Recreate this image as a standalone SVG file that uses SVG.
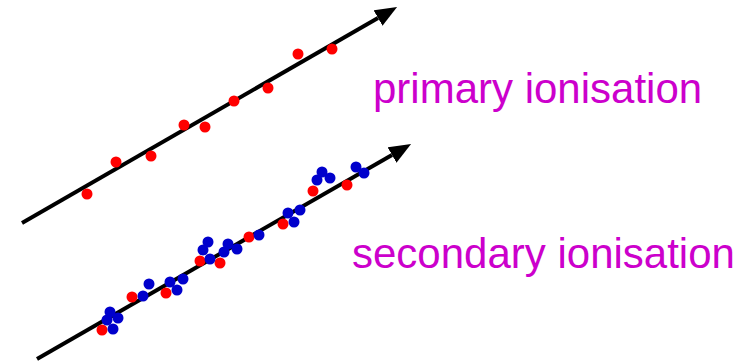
<svg xmlns="http://www.w3.org/2000/svg" width="743" height="363" viewBox="0 0 743 363">
<style>
.trk{stroke:#000;stroke-width:4;fill:none;marker-end:url(#ah)}
.r{fill:#ff0000}
.b{fill:#0000cc}
.lbl{font-family:"Liberation Sans",Arial,sans-serif;font-size:42px;fill:#cc00cc}
</style>
<defs>
<marker id="ah" viewBox="0 0 22 18" refX="0" refY="9" markerWidth="22" markerHeight="18" markerUnits="userSpaceOnUse" orient="auto">
<path d="M0,0 L22,9 L0,18 z" fill="#000"/>
</marker>
</defs>
<rect width="743" height="363" fill="#fff"/>
<g id="connectors">
<line class="trk" x1="22" y1="223" x2="378" y2="18"/>
<line class="trk" x1="37" y1="359" x2="392" y2="155"/>
</g>
<g id="primary-dots">
<circle class="r" cx="87" cy="194" r="5.5"/>
<circle class="r" cx="116" cy="162" r="5.5"/>
<circle class="r" cx="151" cy="156" r="5.5"/>
<circle class="r" cx="184" cy="125" r="5.5"/>
<circle class="r" cx="205" cy="127" r="5.5"/>
<circle class="r" cx="234" cy="101" r="5.5"/>
<circle class="r" cx="268" cy="88" r="5.5"/>
<circle class="r" cx="298" cy="54" r="5.5"/>
<circle class="r" cx="332" cy="49" r="5.5"/>
</g>
<g id="secondary-dots">
<circle class="r" cx="102" cy="330" r="5.5"/>
<circle class="r" cx="132" cy="297" r="5.5"/>
<circle class="r" cx="166" cy="293" r="5.5"/>
<circle class="r" cx="200" cy="261" r="5.5"/>
<circle class="r" cx="220" cy="263" r="5.5"/>
<circle class="r" cx="249" cy="237" r="5.5"/>
<circle class="r" cx="283" cy="224" r="5.5"/>
<circle class="r" cx="313" cy="191" r="5.5"/>
<circle class="r" cx="347" cy="185" r="5.5"/>
<circle class="b" cx="110" cy="312" r="5.5"/>
<circle class="b" cx="107" cy="320" r="5.5"/>
<circle class="b" cx="118" cy="318" r="5.5"/>
<circle class="b" cx="113" cy="329" r="5.5"/>
<circle class="b" cx="143" cy="296" r="5.5"/>
<circle class="b" cx="149" cy="284" r="5.5"/>
<circle class="b" cx="170" cy="282" r="5.5"/>
<circle class="b" cx="177" cy="290" r="5.5"/>
<circle class="b" cx="183" cy="279" r="5.5"/>
<circle class="b" cx="208" cy="242" r="5.5"/>
<circle class="b" cx="203" cy="250" r="5.5"/>
<circle class="b" cx="210" cy="259" r="5.5"/>
<circle class="b" cx="224" cy="252" r="5.5"/>
<circle class="b" cx="228" cy="244" r="5.5"/>
<circle class="b" cx="237" cy="249" r="5.5"/>
<circle class="b" cx="259" cy="235" r="5.5"/>
<circle class="b" cx="288" cy="213" r="5.5"/>
<circle class="b" cx="300" cy="210" r="5.5"/>
<circle class="b" cx="294" cy="222" r="5.5"/>
<circle class="b" cx="317" cy="180" r="5.5"/>
<circle class="b" cx="322" cy="172" r="5.5"/>
<circle class="b" cx="330" cy="178" r="5.5"/>
<circle class="b" cx="356" cy="167" r="5.5"/>
<circle class="b" cx="364" cy="173" r="5.5"/>
</g>
<g id="label-primary">
<text class="lbl" x="373" y="103">primary ionisation</text>
</g>
<g id="label-secondary">
<text class="lbl" x="352" y="268">secondary ionisation</text>
</g>
</svg>
